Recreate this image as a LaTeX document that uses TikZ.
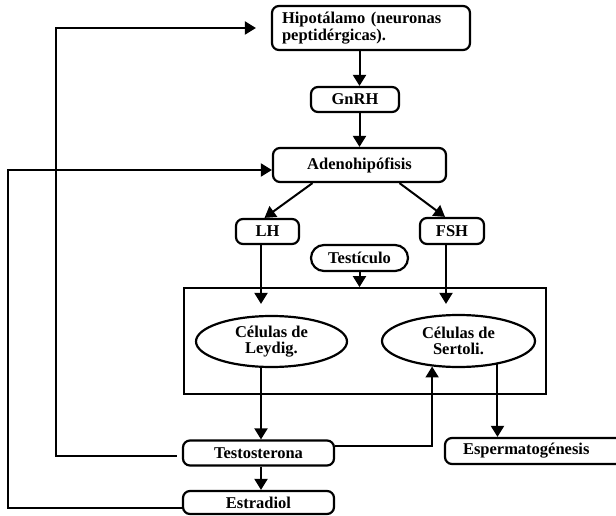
\documentclass[tikz,border=0pt]{standalone}
\usepackage{fontspec}
\setmainfont{Liberation Serif}
\usetikzlibrary{arrows.meta,shapes.geometric,calc}
\begin{document}
\begin{tikzpicture}[x=1pt,y=-1pt,
  every node/.style={font=\fontsize{16.5}{16.5}\selectfont\bfseries},
  rbox/.style={draw, line width=2.2pt, rounded corners=7pt, inner sep=0pt},
  cell/.style={draw, ellipse, line width=2.2pt, inner sep=0pt, align=center},
  arr/.style={line width=2pt, -{Triangle[length=11pt,width=13pt]}}]
\useasboundingbox (0,0) rectangle (616,516);
\node[rbox, minimum width=198pt, minimum height=44pt, text width=178pt, inner xsep=10pt, align=left] (hip) at (371,28) {Hipotálamo (neuronas\\peptidérgicas).};
\node[rbox, minimum width=88pt, minimum height=25pt] (gnrh) at (355,99.5) {GnRH};
\node[rbox, minimum width=173pt, minimum height=34pt] (adeno) at (359.5,165) {Adenohipófisis};
\node[rbox, minimum width=63pt, minimum height=25pt] (lh) at (267.5,231.5) {LH};
\node[rbox, minimum width=64pt, minimum height=26pt] (fsh) at (452,231) {FSH};
\node[rbox, rounded corners=13pt, minimum width=97pt, minimum height=26pt] (testic) at (359.5,258) {Testículo};
\node[draw, line width=1.8pt, minimum width=362pt, minimum height=106pt] (testis) at (365,341) {};
\node[cell, minimum width=151pt, minimum height=51pt] (leydig) at (271.5,341.5) {Células de\\Leydig.};
\node[cell, minimum width=153pt, minimum height=52pt] (sertoli) at (458.5,341) {Células de\\Sertoli.};
\node[rbox, minimum width=151pt, minimum height=25pt] (testo) at (258.5,453) {Testosterona};
\node[rbox, minimum width=151pt, minimum height=23pt] (estr) at (258.5,502.5) {Estradiol};
\node[rbox, minimum width=180pt, minimum height=26pt, text width=144pt, inner xsep=18pt, align=left] (esper) at (535,451) {Espermatogénesis};
\coordinate (cl) at (261,0);
\coordinate (cr) at (446,0);
\coordinate (inner) at (56,28);
\coordinate (outer) at (7.5,170);
\draw[arr] (hip.south -| adeno) -- (gnrh.north -| adeno);
\draw[arr] (gnrh.south -| adeno) -- (adeno.north);
\draw[arr] ([xshift=-47pt]adeno.south) -- ([xshift=-3pt]lh.north);
\draw[arr] ([xshift=40pt]adeno.south) -- ([xshift=-7pt]fsh.north);
\draw[arr] (testic.south) -- (testic.south |- testis.north);
\draw[arr, shorten >=11pt] (cl |- lh.south) -- (cl |- leydig.north);
\draw[arr, shorten >=10pt] (cr |- fsh.south) -- (cr |- sertoli.north);
\draw[arr] (cl |- leydig.south) -- (cl |- testo.north);
\draw[arr] (cl |- testo.south) -- (cl |- estr.north);
\draw[arr] ([yshift=7pt]testo.east) -| (sertoli.-136);
\draw[arr] (sertoli.-31) -- (sertoli.-31 |- esper.north);
\draw[arr, shorten <=5pt, shorten >=15pt] ([yshift=-3pt]testo.west) -| (inner) -- (hip.west |- inner);
\draw[arr] ([yshift=-5.5pt]estr.west) -| (outer) -- (adeno.west |- outer);
\end{tikzpicture}
\end{document}
